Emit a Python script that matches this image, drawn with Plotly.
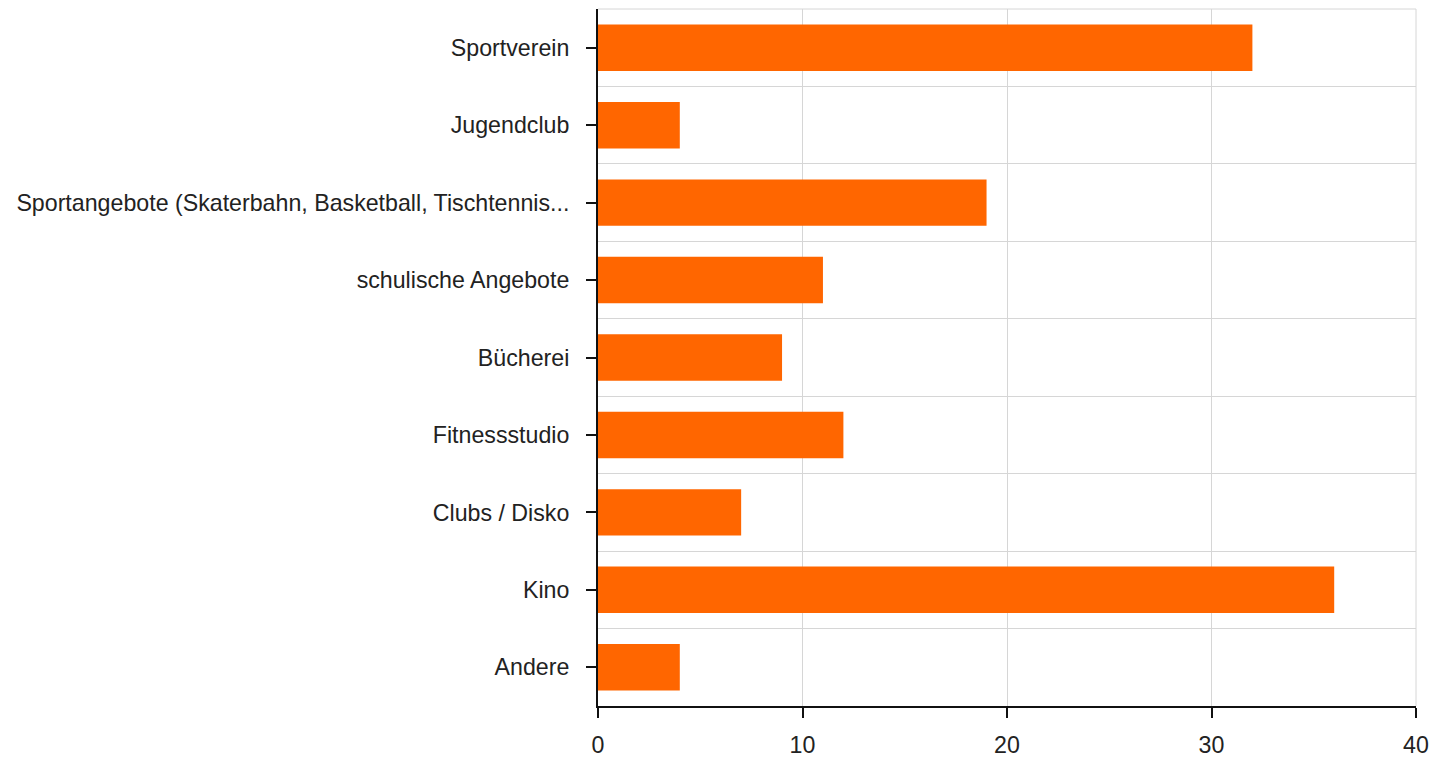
import plotly.graph_objects as go

categories = [
    "Sportverein",
    "Jugendclub",
    "Sportangebote (Skaterbahn, Basketball, Tischtennis...",
    "schulische Angebote",
    "Bücherei",
    "Fitnessstudio",
    "Clubs / Disko",
    "Kino",
    "Andere",
]
values = [32, 4, 19, 11, 9, 12, 7, 36, 4]
x_ticks = [0, 10, 20, 30, 40]

positions = list(range(len(categories)))

fig = go.Figure(
    go.Bar(
        x=values,
        y=positions,
        orientation="h",
        width=0.6,
        marker=dict(color="#FF6600", line=dict(width=0)),
        hoverinfo="x+text",
        text=categories,
        textposition="none",
    )
)

font = dict(family="Liberation Sans, Arial, sans-serif", size=23.2, color="#222222")

fig.update_layout(
    width=1431,
    height=758,
    margin=dict(l=598, r=15, t=9, b=52),
    paper_bgcolor="white",
    plot_bgcolor="white",
    showlegend=False,
    font=font,
    bargap=0.4,
)

fig.update_xaxes(
    automargin=False,
    range=[0, 40],
    tickvals=x_ticks,
    ticktext=[str(v) for v in x_ticks],
    showgrid=True,
    gridcolor="#d6d6d6",
    gridwidth=1,
    zeroline=False,
    showline=True,
    linecolor="#111111",
    linewidth=2,
    ticks="outside",
    ticklen=10,
    tickwidth=2,
    tickcolor="#111111",
    tickfont=font,
    ticklabelstandoff=7,
    ticklabeloverflow="allow",
)

fig.update_yaxes(
    automargin=False,
    range=[len(categories) - 0.5, -0.5],
    tickvals=positions,
    ticktext=categories,
    showgrid=False,
    zeroline=False,
    showline=True,
    linecolor="#111111",
    linewidth=2,
    ticks="outside",
    ticklen=10,
    tickwidth=2,
    tickcolor="#111111",
    tickfont=font,
    ticklabelstandoff=12,
    minor=dict(
        tick0=0.5,
        dtick=1,
        showgrid=True,
        gridcolor="#d6d6d6",
        gridwidth=1,
        ticks="",
    ),
)

# top and right light border lines of plot area
fig.add_shape(type="line", xref="paper", yref="paper", x0=0, x1=1, y0=1, y1=1,
              line=dict(color="#d6d6d6", width=1))
fig.add_shape(type="line", xref="paper", yref="paper", x0=1, x1=1, y0=0, y1=1,
              line=dict(color="#d6d6d6", width=1))

fig.write_html(
    "out.html",
    config={"displayModeBar": False},
    post_script="document.body.style.margin='0';document.body.style.overflow='hidden';",
)
